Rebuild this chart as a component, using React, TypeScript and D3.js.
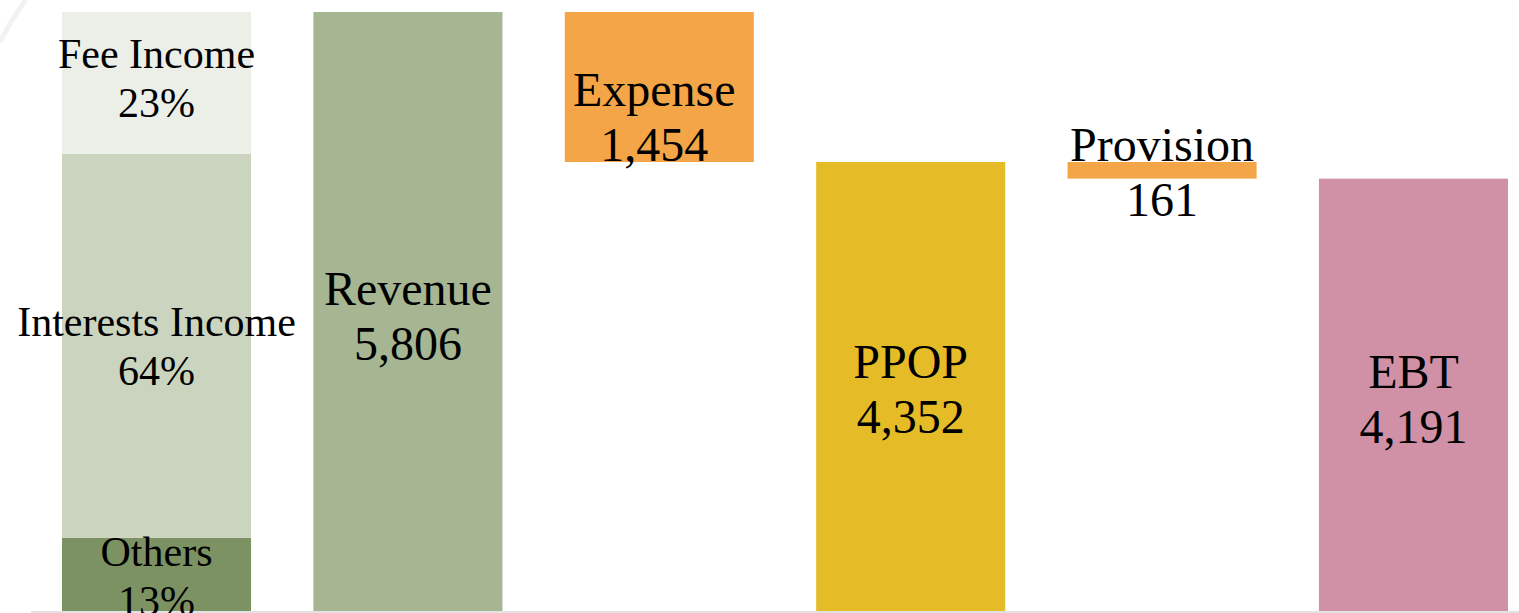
import React from "react";
import * as d3 from "d3";

const categories = ["Breakdown", "Revenue", "Expense", "PPOP", "Provision", "EBT"];
const waterfallNames = ["Revenue", "Expense", "PPOP", "Provision", "EBT"];
const waterfallValues = [5806, 1454, 4352, 161, 4191];
const waterfallKinds = ["total", "decrease", "total", "decrease", "total"];
const waterfallColors = ["#A6B592", "#F3A547", "#E5BC28", "#F3A547", "#D091A7"];

const segmentNames = ["Others", "Interests Income", "Fee Income"];
const segmentValues = [710, 3720, 1376];
const segmentLabels = ["13%", "64%", "23%"];
const segmentColors = ["#7C9262", "#CBD4BF", "#ECEFE8"];

const W = 1519;
const H = 613;

export default function App() {
  const x = d3.scaleBand<string>().domain(categories).range([62, 1508]).paddingInner(0.248).paddingOuter(0);
  const y = d3.scaleLinear().domain([0, 5806]).range([611, 12]);
  const fmt = d3.format(",");
  const bw = x.bandwidth();

  let running = 0;
  const bars = waterfallNames.map((name, i) => {
    const v = waterfallValues[i];
    let lo: number, hi: number;
    if (waterfallKinds[i] === "total") {
      lo = 0; hi = v; running = v;
    } else {
      hi = running; lo = running - v; running = lo;
    }
    return { name, v, lo, hi, color: waterfallColors[i] };
  });

  let acc = 0;
  const segs = segmentNames.map((name, i) => {
    const lo = acc;
    acc += segmentValues[i];
    return { name, lo, hi: acc, label: segmentLabels[i], color: segmentColors[i] };
  });

  const labelShift: Record<string, [number, number]> = {
    Expense: [-5, 26],
    PPOP: [0, -2],
    Provision: [0, -2],
    "Fee Income": [0, -5],
    Others: [0, 2],
  };

  return (
    <svg width={W} height={H} style={{ position: "absolute", left: 0, top: 0, background: "#fff" }}
      fontFamily="'Liberation Serif', 'Times New Roman', serif">
      <path d="M0,42 Q12,18 26,0" fill="none" stroke="#f2f2f2" strokeWidth={5} />
      {segs.map((s) => {
        const y0 = y(s.hi), y1 = y(s.lo);
        return (
          <rect key={s.name} x={x("Breakdown")} y={y0} width={bw} height={y1 - y0} fill={s.color} />
        );
      })}
      {bars.map((b) => {
        const y0 = y(b.hi), y1 = y(b.lo);
        return <rect key={b.name} x={x(b.name)} y={y0} width={bw} height={y1 - y0} fill={b.color} />;
      })}
      <line x1={31} x2={W} y1={612} y2={612} stroke="#d9d9d9" strokeWidth={1.5} />
      {segs.map((s) => {
        const sh = labelShift[s.name] || [0, 0];
        const cy = (y(s.hi) + y(s.lo)) / 2 + sh[1];
        const cx = (x("Breakdown") as number) + bw / 2 + sh[0];
        return (
          <text key={s.name} x={cx} textAnchor="middle" fontSize={42} fill="#000">
            <tspan x={cx} y={cy - 10}>{s.name}</tspan>
            <tspan x={cx} y={cy + 39}>{s.label}</tspan>
          </text>
        );
      })}
      {bars.map((b) => {
        const sh = labelShift[b.name] || [0, 0];
        const cy = (y(b.hi) + y(b.lo)) / 2 + sh[1];
        const cx = (x(b.name) as number) + bw / 2 + sh[0];
        return (
          <text key={b.name} x={cx} textAnchor="middle" fontSize={48} fill="#000">
            <tspan x={cx} y={cy - 7}>{b.name}</tspan>
            <tspan x={cx} y={cy + 48}>{fmt(b.v)}</tspan>
          </text>
        );
      })}
    </svg>
  );
}
